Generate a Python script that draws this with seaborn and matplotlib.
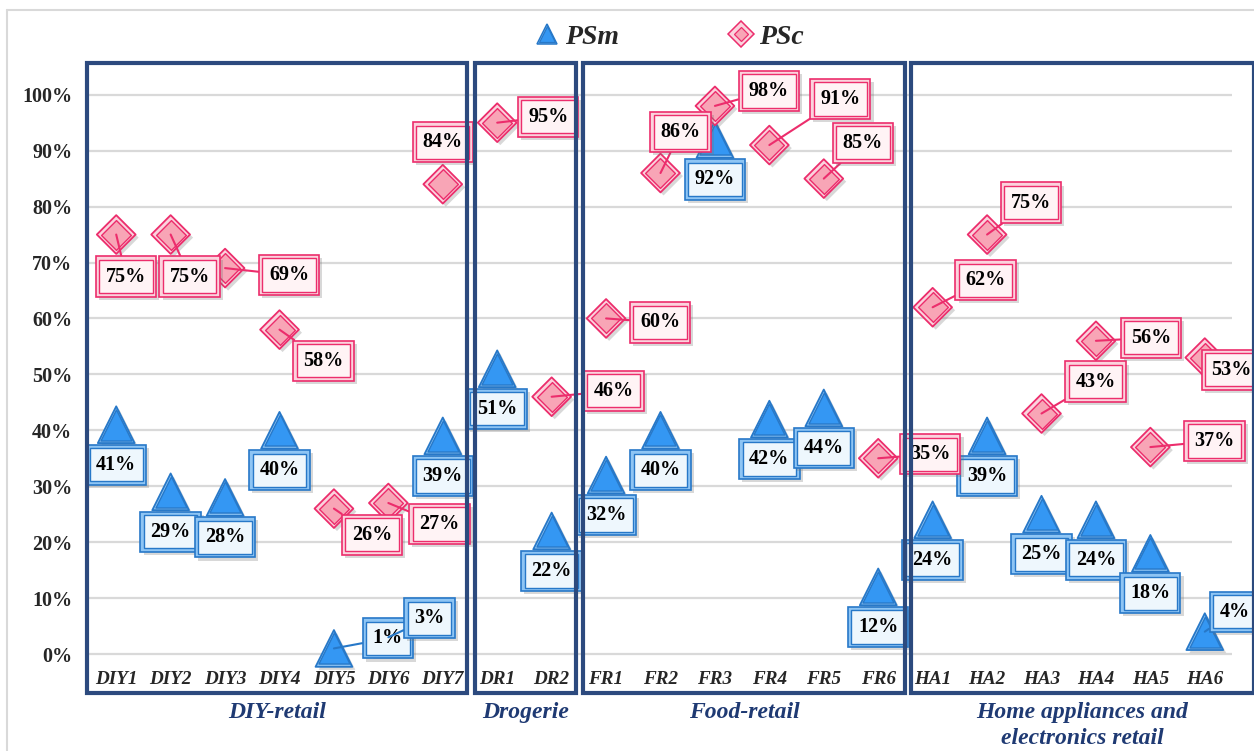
import matplotlib
matplotlib.use("Agg")
import matplotlib.pyplot as plt
import matplotlib.patheffects as pe
import matplotlib.transforms as mtransforms
from matplotlib.lines import Line2D
from matplotlib.patches import Rectangle
from matplotlib.ticker import PercentFormatter
import pandas as pd
import seaborn as sns

# ---------------------------------------------------------------- data
categories = ["DIY1", "DIY2", "DIY3", "DIY4", "DIY5", "DIY6", "DIY7",
              "DR1", "DR2",
              "FR1", "FR2", "FR3", "FR4", "FR5", "FR6",
              "HA1", "HA2", "HA3", "HA4", "HA5", "HA6"]
psm_values = [41, 29, 28, 40, 1, 3, 39,
              51, 22,
              32, 40, 92, 42, 44, 12,
              24, 39, 25, 24, 18, 4]
psc_values = [75, 75, 69, 58, 26, 27, 84,
              95, 46,
              60, 86, 98, 91, 85, 35,
              62, 75, 43, 56, 37, 53]
group_names = ["DIY-retail", "Drogerie", "Food-retail",
               "Home appliances and\nelectronics retail"]
group_sizes = [7, 2, 6, 6]

# ---------------------------------------------------------------- layout
# label offsets from their marker, in pixels (x right, y up)
psm_offsets = [(0, -40)] * 4 + [(54, 10), (41, 19)] + [(0, -40)] * 14 + [(30, 20)]
psc_offsets = [(10, -42), (19, -42), (64, -7), (44, -31), (38, -26), (51, -21), (0, 42),
               (51, 6), (62, 6),
               (54, -4), (20, 41), (54, 15), (71, 46), (39, 36), (52, 4),
               (53, 27), (44, 32), (54, 32), (55, 3), (64, 6), (27, -12)]
# extra width of each group frame beyond its first / last category
group_frame_pad = [(-0.53, 0.45), (-0.41, 0.44), (-0.42, 0.49), (-0.40, 0.90)]

SERIF = ["Liberation Serif", "DejaVu Serif"]
NAVY = "#2C4A7E"
GROUP_TEXT = "#1F3A73"
BLUE_EDGE, BLUE_RING, BLUE_FILL, BLUE_BOX = "#2778C8", "#8EC5F4", "#3497F3", "#EEF7FD"
PINK_EDGE, PINK_RING, PINK_FILL, PINK_BOX = "#EC2D6C", "#FBD3DD", "#F8A5B6", "#FFF3F5"

sns.set_theme(style="white")
plt.rcParams["font.family"] = SERIF
plt.rcParams["font.weight"] = "bold"

n = len(categories)
df = pd.DataFrame({
    "pos": list(range(n)) * 2,
    "category": categories * 2,
    "share": [v / 100 for v in psm_values] + [v / 100 for v in psc_values],
    "series": ["PSm"] * n + ["PSc"] * n,
})

fig = plt.figure(figsize=(12.54, 7.51), dpi=100)
ax = fig.add_axes([89 / 1254, 1 - 693 / 751, 1143 / 1254, 630 / 751])
ax.set_xlim(-0.5, n - 0.5)
ax.set_ylim(-0.0697, 1.0567)

shadow = [pe.SimplePatchShadow(offset=(2.2, -2.2), shadow_rgbFace="0.45", alpha=0.28), pe.Normal()]


def draw_markers(sub, marker, s_outer, s_inner, ring, fill, edge, z):
    sns.scatterplot(data=sub, x="pos", y="share", marker=marker, s=s_outer,
                    color=ring, edgecolor=edge, linewidth=1.3, ax=ax,
                    zorder=z, legend=False)
    ax.collections[-1].set_path_effects(shadow)
    sns.scatterplot(data=sub, x="pos", y="share", marker=marker, s=s_inner,
                    color=fill, edgecolor=edge, linewidth=1.0, ax=ax,
                    zorder=z + 0.1, legend=False)


draw_markers(df[df.series == "PSm"], "^", 700, 500, BLUE_RING, BLUE_FILL, BLUE_EDGE, 3)
draw_markers(df[df.series == "PSc"], "D", 390, 230, PINK_RING, PINK_FILL, PINK_EDGE, 3.5)


def draw_labels(sub, offsets, ring, fill, edge):
    for (_, row), (dx, dy) in zip(sub.iterrows(), offsets):
        text = f"{round(row.share * 100)}%"
        base = dict(xy=(row.pos, row.share), xytext=(dx, dy), textcoords="offset pixels",
                    ha="center", va="center", fontsize=14.5, fontweight="bold",
                    annotation_clip=False)
        arrow = None
        if dx != 0:
            arrow = dict(arrowstyle="-", color=edge, lw=1.5, shrinkA=0, shrinkB=0)
        outer = ax.annotate(text, color="none",
                            bbox=dict(boxstyle="square,pad=0.5", fc=ring, ec=edge, lw=1.2),
                            arrowprops=arrow, zorder=6, **base)
        outer.get_bbox_patch().set_path_effects(shadow)
        ax.annotate(text, color="black",
                    bbox=dict(boxstyle="square,pad=0.33", fc=fill, ec=edge, lw=1.0),
                    zorder=6, **base)


draw_labels(df[df.series == "PSm"], psm_offsets, BLUE_RING, BLUE_BOX, BLUE_EDGE)
draw_labels(df[df.series == "PSc"], psc_offsets, PINK_RING, PINK_BOX, PINK_EDGE)

# axes, grid and ticks
ax.set_yticks([i / 10 for i in range(11)])
ax.yaxis.set_major_formatter(PercentFormatter(1.0, decimals=0))
ax.grid(axis="y", color="#D9D9D9", lw=1.6)
ax.grid(axis="x", visible=False)
ax.set_axisbelow(True)
for sp in ax.spines.values():
    sp.set_visible(False)
ax.tick_params(axis="y", length=0, pad=12, labelsize=14.5)
ax.set_xticks(range(n))
ax.set_xticklabels(categories, fontstyle="italic", fontweight="bold", fontsize=13.8)
ax.tick_params(axis="x", length=0, pad=-16)
ax.set_xlabel("")
ax.set_ylabel("")

# group frames and group names
blend = mtransforms.blended_transform_factory(ax.transData, ax.transAxes)
start = 0
for name, size, (lp, rp) in zip(group_names, group_sizes, group_frame_pad):
    x0, x1 = start + lp, start + size - 1 + rp
    ax.add_patch(Rectangle((x0, 0), x1 - x0, 1, transform=blend, fill=False,
                           ec=NAVY, lw=3.0, zorder=8, clip_on=False))
    ax.text((x0 + x1) / 2, -0.014, name, transform=blend, ha="center", va="top",
            fontsize=17, fontstyle="italic", fontweight="bold", color=GROUP_TEXT,
            linespacing=1.3)
    start += size

# legend
h_psm = (Line2D([], [], ls="", marker="^", ms=15, mfc=BLUE_RING, mec=BLUE_EDGE, mew=1.1),
         Line2D([], [], ls="", marker="^", ms=11, mfc=BLUE_FILL, mec=BLUE_EDGE, mew=0.9))
h_psc = (Line2D([], [], ls="", marker="D", ms=13, mfc=PINK_RING, mec=PINK_EDGE, mew=1.1),
         Line2D([], [], ls="", marker="D", ms=7.5, mfc=PINK_FILL, mec=PINK_EDGE, mew=0.9))
fig.legend([h_psm, h_psc], ["PSm", "PSc"], ncol=2, loc="center",
           bbox_to_anchor=(0.533, 0.951), frameon=False, handlelength=1.0,
           handletextpad=0.15, columnspacing=3.9,
           prop=dict(family=SERIF, weight="bold", style="italic", size=20))

# light outer border of the chart area
fig.add_artist(Line2D([7 / 1254, 7 / 1254], [0, 1 - 10 / 751], transform=fig.transFigure,
                      color="#D9D9D9", lw=1.5))
fig.add_artist(Line2D([7 / 1254, 1], [1 - 10 / 751, 1 - 10 / 751], transform=fig.transFigure,
                      color="#D9D9D9", lw=1.5))

fig.savefig("out.png", dpi=100, facecolor="white")
